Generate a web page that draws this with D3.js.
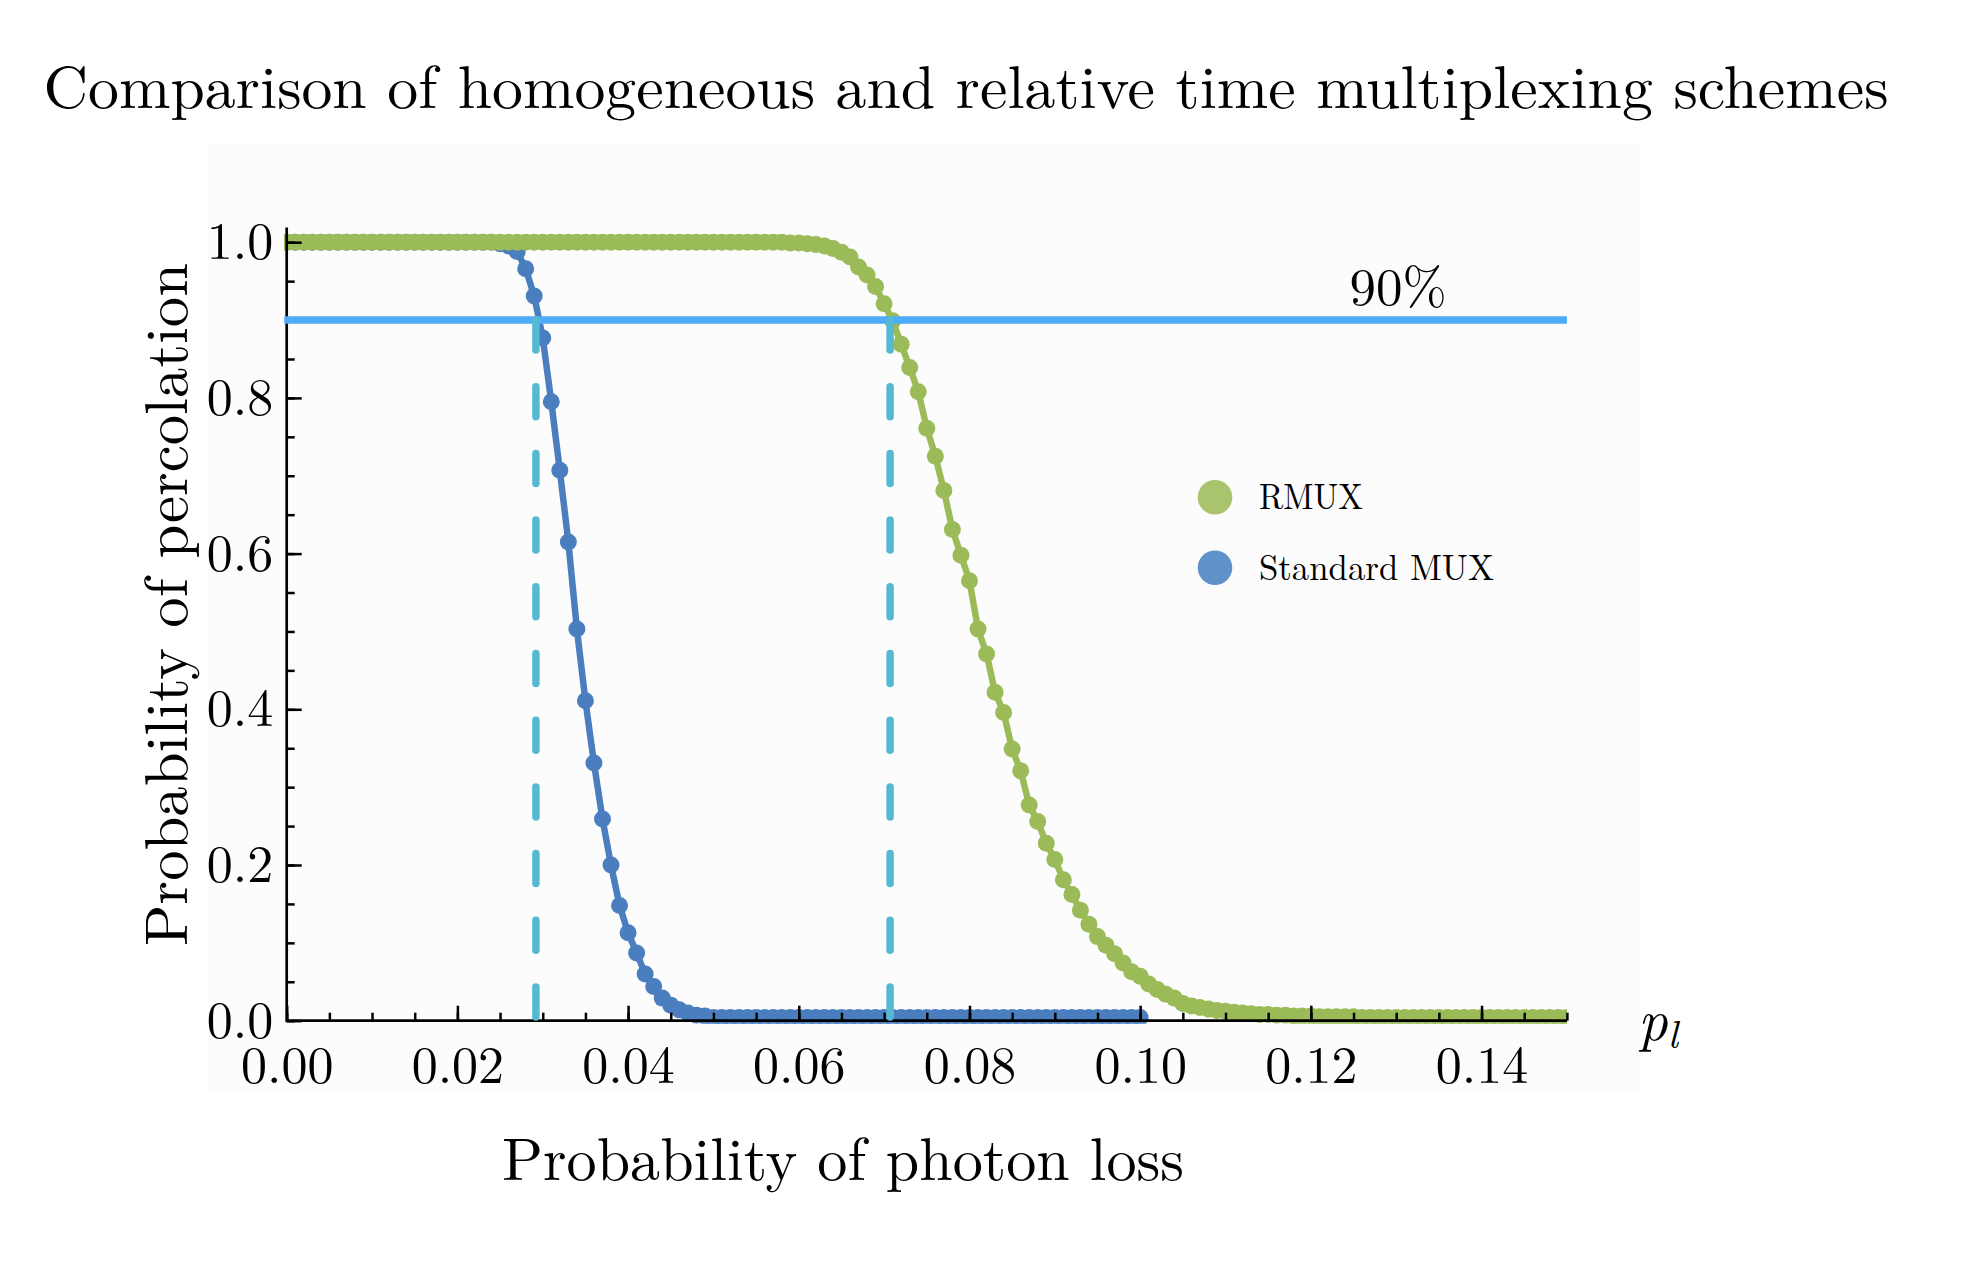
<!DOCTYPE html>
<html>
<head>
<meta charset="utf-8">
<script src="https://cdn.jsdelivr.net/npm/d3@7"></script>
<style>
  body { margin: 0; background: #fff; }
  text { font-family: "Latin Modern Roman", "CMU Serif", "Liberation Serif", "DejaVu Serif", serif; fill: #000; }
</style>
</head>
<body>
<div id="chart"></div>
<script>
// photon loss grid step (both series sampled every 0.001)
const lossStep = 0.001;

// Standard MUX, p_l = 0.000 ... 0.100
const standardMux = [
  1, 1, 1, 1, 1, 1, 1, 1, 1, 1,
  1, 1, 1, 1, 1, 1, 1, 1, 1, 1,
  1, 1, 1, 1, 1,
  0.998, 0.995, 0.988, 0.966, 0.931, 0.877, 0.795, 0.707, 0.615, 0.503,
  0.411, 0.331, 0.259, 0.200, 0.148, 0.113, 0.087, 0.060, 0.044, 0.029,
  0.020, 0.014, 0.010, 0.007, 0.006,
  0.004, 0.004, 0.004, 0.004, 0.004, 0.004, 0.004, 0.004, 0.004, 0.004,
  0.004, 0.004, 0.004, 0.004, 0.004, 0.004, 0.004, 0.004, 0.004, 0.004,
  0.004, 0.004, 0.004, 0.004, 0.004, 0.004, 0.004, 0.004, 0.004, 0.004,
  0.004, 0.004, 0.004, 0.004, 0.004, 0.004, 0.004, 0.004, 0.004, 0.004,
  0.004, 0.004, 0.004, 0.004, 0.004, 0.004, 0.004, 0.004, 0.004, 0.004,
  0.004
];

// RMUX, p_l = 0.000 ... 0.150
const rmux = [
  1, 1, 1, 1, 1, 1, 1, 1, 1, 1,
  1, 1, 1, 1, 1, 1, 1, 1, 1, 1,
  1, 1, 1, 1, 1, 1, 1, 1, 1, 1,
  1, 1, 1, 1, 1, 1, 1, 1, 1, 1,
  1, 1, 1, 1, 1, 1, 1, 1, 1, 1,
  1, 1, 1, 1, 1, 1, 1, 1, 1,
  0.999, 0.999, 0.998, 0.997, 0.995, 0.992, 0.987, 0.981, 0.968, 0.958,
  0.943, 0.921, 0.899, 0.869, 0.839, 0.808, 0.761, 0.725, 0.681, 0.631,
  0.598, 0.565, 0.503, 0.471, 0.422, 0.396, 0.349, 0.321, 0.277, 0.256,
  0.228, 0.207, 0.181, 0.162, 0.142, 0.124, 0.108, 0.097, 0.086, 0.074,
  0.063, 0.057, 0.047, 0.040, 0.034, 0.029, 0.022, 0.019,
  0.017, 0.015, 0.013, 0.012, 0.011, 0.010, 0.009, 0.008, 0.008, 0.007,
  0.007, 0.006, 0.006, 0.006,
  0.005, 0.005, 0.005, 0.005, 0.005,
  0.004, 0.004, 0.004, 0.004, 0.004, 0.004, 0.004, 0.004, 0.004, 0.004,
  0.004, 0.004, 0.004, 0.004, 0.004, 0.004, 0.004, 0.004, 0.004, 0.004,
  0.004, 0.004, 0.004, 0.004, 0.004
];

// thresholds
const threshold = 0.9;
const crossings = [0.0292, 0.0707];

// axis ticks
const xTicks = [0, 0.02, 0.04, 0.06, 0.08, 0.10, 0.12, 0.14];
const xTickLabels = ["0.00", "0.02", "0.04", "0.06", "0.08", "0.10", "0.12", "0.14"];
const yTicks = [0, 0.2, 0.4, 0.6, 0.8, 1.0];
const yTickLabels = ["0.0", "0.2", "0.4", "0.6", "0.8", "1.0"];

const seriesNames = ["RMUX", "Standard MUX"];

// ---- layout ----
const width = 1964, height = 1264;
const green = "#9bbb59", blue = "#4a7ebf";

const x = d3.scaleLinear().domain([0, 0.15]).range([286.7, 1566.9]);
const y = d3.scaleLinear().domain([0, 1]).range([1020.7, 242.2]);

const svg = d3.select("#chart").append("svg")
  .attr("width", width).attr("height", height);

svg.append("rect").attr("width", width).attr("height", height).attr("fill", "#fff");
// faint plot panel
svg.append("rect").attr("x", 207).attr("y", 144).attr("width", 1434).attr("height", 946)
  .attr("fill", "#fcfcfc");

// title
svg.append("text")
  .attr("x", 966).attr("y", 108)
  .attr("text-anchor", "middle")
  .attr("font-size", 60)
  .attr("textLength", 1845).attr("lengthAdjust", "spacingAndGlyphs")
  .text("Comparison of homogeneous and relative time multiplexing schemes");

const plot = svg.append("g");

svg.append("clipPath").attr("id", "clip")
  .append("rect")
  .attr("x", x(0) - 2.7).attr("y", 150)
  .attr("width", x(0.15) - x(0) + 2.7)
  .attr("height", y(0) + 3 - 150);

// axes: ticks point inward
const minorX = d3.range(0, 0.1501, 0.005);
const minorY = d3.range(0, 1.001, 0.05);

const gx = svg.append("g").attr("transform", `translate(0,${y(0)})`);
gx.call(d3.axisBottom(x).tickValues(minorX).tickSize(-8).tickFormat(""))
  .call(g => g.select(".domain").remove());
gx.append("g").call(d3.axisBottom(x).tickValues(xTicks).tickSize(-15).tickPadding(25.5)
    .tickFormat((d, i) => xTickLabels[i]))
  .call(g => g.select(".domain").remove());

const gy = svg.append("g").attr("transform", `translate(${x(0)},0)`);
gy.call(d3.axisLeft(y).tickValues(minorY).tickSize(-8).tickFormat(""))
  .call(g => g.select(".domain").remove());
gy.append("g").call(d3.axisLeft(y).tickValues(yTicks).tickSize(-15).tickPadding(13.4)
    .tickFormat((d, i) => yTickLabels[i]))
  .call(g => g.select(".domain").remove());

svg.selectAll(".tick line").attr("stroke", "#000").attr("stroke-width", 2.5);
svg.selectAll(".tick text")
  .style("font-family", '"Latin Modern Roman","CMU Serif","Liberation Serif",serif')
  .attr("font-size", 52).attr("fill", "#000");

// axis lines
svg.append("line").attr("x1", x(0)).attr("x2", x(0.15)).attr("y1", y(0)).attr("y2", y(0))
  .attr("stroke", "#000").attr("stroke-width", 2.7);
svg.append("line").attr("x1", x(0)).attr("x2", x(0)).attr("y1", y(0) + 1.3).attr("y2", y(1.019))
  .attr("stroke", "#000").attr("stroke-width", 2.7);

// series
function drawSeries(values, color) {
  const pts = values.map((v, i) => ({ p: i * lossStep, v: v }));
  const g = plot.append("g").attr("clip-path", "url(#clip)");
  g.append("path")
    .datum(pts)
    .attr("fill", "none")
    .attr("stroke", color)
    .attr("stroke-width", 6.5)
    .attr("stroke-linejoin", "round")
    .attr("d", d3.line().x(d => x(d.p)).y(d => y(d.v)));
  g.selectAll("circle")
    .data(pts)
    .enter()
    .append("circle")
    .attr("cx", d => x(d.p))
    .attr("cy", d => y(d.v))
    .attr("r", 8.5)
    .attr("fill", color);
}
drawSeries(standardMux, blue);
drawSeries(rmux, green);

// 90% line
svg.append("line")
  .attr("x1", x(0) - 2.5).attr("x2", x(0.15))
  .attr("y1", y(threshold)).attr("y2", y(threshold))
  .attr("stroke", "#4dabf7").attr("stroke-width", 7.5);

svg.append("text")
  .attr("x", 1398).attr("y", 305)
  .attr("text-anchor", "middle")
  .attr("font-size", 53)
  .text("90%");

// dashed crossings
svg.selectAll(".cross")
  .data(crossings)
  .enter()
  .append("line")
  .attr("class", "cross")
  .attr("x1", d => x(d)).attr("x2", d => x(d))
  .attr("y1", y(0) - 3.7).attr("y2", y(threshold))
  .attr("stroke", "#56b9d4")
  .attr("stroke-width", 7.5)
  .attr("stroke-linecap", "round")
  .attr("stroke-dasharray", "30 36.7");

// legend
const legendColors = ["#a9c46c", "#5f91cb"];
const legendWidths = [104, 235];
const legend = svg.append("g");
seriesNames.forEach((name, i) => {
  const cy = 497.3 + i * 70.4;
  legend.append("circle").attr("cx", 1215).attr("cy", cy).attr("r", 17.3).attr("fill", legendColors[i]);
  legend.append("text")
    .attr("x", 1259).attr("y", cy + 12)
    .attr("font-size", 36)
    .attr("textLength", legendWidths[i]).attr("lengthAdjust", "spacingAndGlyphs")
    .text(name);
});

// axis titles
svg.append("text")
  .attr("x", 843).attr("y", 1180)
  .attr("text-anchor", "middle")
  .attr("font-size", 60)
  .attr("textLength", 682).attr("lengthAdjust", "spacingAndGlyphs")
  .text("Probability of photon loss");

svg.append("text")
  .attr("transform", "translate(187,604.5) rotate(-90)")
  .attr("text-anchor", "middle")
  .attr("font-size", 60)
  .attr("textLength", 683).attr("lengthAdjust", "spacingAndGlyphs")
  .text("Probability of percolation");

// p_l label
const pl = svg.append("text").attr("x", 1638).attr("y", 1040).attr("font-style", "italic");
pl.append("tspan").attr("font-size", 58).text("p");
pl.append("tspan").attr("font-size", 40).attr("dy", 8).text("l");
</script>
</body>
</html>
